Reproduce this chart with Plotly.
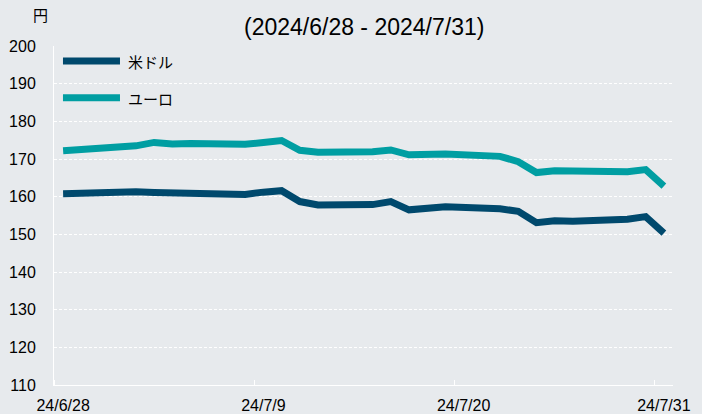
import plotly.graph_objects as go

dates = ["2024-06-28", "2024-07-01", "2024-07-02", "2024-07-03", "2024-07-04", "2024-07-05",
         "2024-07-08", "2024-07-09", "2024-07-10", "2024-07-11", "2024-07-12",
         "2024-07-15", "2024-07-16", "2024-07-17", "2024-07-18", "2024-07-19",
         "2024-07-22", "2024-07-23", "2024-07-24", "2024-07-25", "2024-07-26",
         "2024-07-29", "2024-07-30", "2024-07-31"]
usd = [160.8, 161.5, 161.3, 161.1, 161.0, 160.9,
       160.6, 161.2, 161.6, 158.7, 157.8,
       157.9, 158.7, 156.5, 156.7, 157.3,
       156.8, 156.1, 153.1, 153.6, 153.5,
       154.0, 154.7, 150.3]
eur = [172.2, 173.3, 173.5, 174.4, 174.0, 174.1,
       173.9, 174.4, 174.9, 172.3, 171.8,
       171.9, 172.4, 171.1, 171.2, 171.3,
       170.7, 169.3, 166.4, 166.9, 166.8,
       166.6, 167.2, 162.8]
series_names = ["米ドル", "ユーロ"]
colors = ["#00496D", "#009EA2"]
tick_dates = ["2024-06-28", "2024-07-09", "2024-07-20", "2024-07-31"]
tick_text = ["24/6/28", "24/7/9", "24/7/20", "24/7/31"]
title_text = "(2024/6/28 - 2024/7/31)"
unit_text = "円"

xs = [d + " 12:00" for d in dates]
BG = "#E7EAED"
FONT = "Liberation Sans, Arial, Noto Sans CJK JP, sans-serif"

fig = go.Figure()
for name, vals, col in zip(series_names, [usd, eur], colors):
    fig.add_trace(go.Scatter(x=xs, y=vals, mode="lines", name=name,
                             line=dict(color=col, width=7), showlegend=False))

fig.update_layout(
    width=702, height=414, autosize=False,
    margin=dict(l=54, r=29, t=46, b=29, pad=0),
    paper_bgcolor=BG, plot_bgcolor=BG,
    font=dict(family=FONT, color="#000000", size=16),
    xaxis=dict(type="date", range=["2024-06-28", "2024-08-01"], automargin=False,
               tickmode="array", tickvals=[d + " 12:00" for d in tick_dates], ticktext=tick_text,
               ticks="", showgrid=False, showline=True, linecolor="white", linewidth=1,
               zeroline=False, ticklabelstandoff=6, tickfont=dict(size=16),
               minor=dict(tickmode="array", tickvals=tick_dates, ticks="inside",
                          ticklen=5, tickcolor="white", tickwidth=1, showgrid=False)),
    yaxis=dict(range=[110, 200], dtick=10, tick0=110, showgrid=True, gridcolor="white",
               griddash="3px,2px", gridwidth=1, showline=True, linecolor="white", linewidth=1,
               zeroline=False, ticks="", ticklabelstandoff=14, tickfont=dict(size=16),
               automargin=False),
)

# title and unit
fig.add_annotation(text=title_text, xref="paper", yref="paper", x=0.5, y=1.056,
                   xanchor="center", yanchor="middle", showarrow=False,
                   font=dict(size=23, family=FONT))
fig.add_annotation(text=unit_text, xref="paper", yref="paper", x=-0.0226, y=1.0914,
                   xanchor="center", yanchor="middle", showarrow=False,
                   font=dict(size=15, family=FONT))

# legend drawn inside the plot
leg_y = [0.9558, 0.8475]
for name, col, yy in zip(series_names, colors, leg_y):
    fig.add_shape(type="line", xref="paper", yref="paper", x0=0.0145, x1=0.1066, y0=yy, y1=yy,
                  line=dict(color=col, width=7))
    fig.add_annotation(text=name, xref="paper", yref="paper", x=0.1163, y=yy - 0.004,
                       xanchor="left", yanchor="middle", showarrow=False,
                       font=dict(size=15, family=FONT))

fig.write_html("out.html", config={"displayModeBar": False},
               post_script="document.body.style.margin='0';document.body.style.padding='0';")
